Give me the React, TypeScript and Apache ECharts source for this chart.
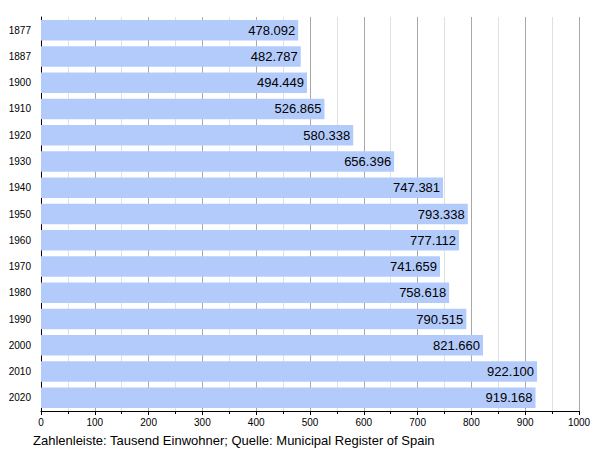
import React, { useEffect, useRef } from "react";
import * as echarts from "echarts";

const years = ["1877", "1887", "1900", "1910", "1920", "1930", "1940", "1950", "1960", "1970", "1980", "1990", "2000", "2010", "2020"];
const population = [478.092, 482.787, 494.449, 526.865, 580.338, 656.396, 747.381, 793.338, 777.112, 741.659, 758.618, 790.515, 821.66, 922.1, 919.168];
const caption = "Zahlenleiste: Tausend Einwohner; Quelle: Municipal Register of Spain";

export default function App() {
  const ref = useRef<HTMLDivElement>(null);
  useEffect(() => {
    const chart = echarts.init(ref.current!, null, { renderer: "svg" });
    chart.setOption({
      animation: false,
      textStyle: { fontFamily: "Liberation Sans, Arial, sans-serif" },
      grid: { left: 41, right: 21, top: 17, bottom: 39, containLabel: false },
      xAxis: {
        type: "value",
        min: 0,
        max: 1000,
        interval: 100,
        axisLine: { show: true, lineStyle: { color: "#000", width: 1 } },
        axisTick: { show: true, length: 4, inside: false, lineStyle: { color: "#000" } },
        minorTick: { show: true, splitNumber: 2, length: 3, lineStyle: { color: "#000" } },
        axisLabel: { color: "#000", fontSize: 10, margin: 6, formatter: (v: number) => String(v) },
        splitLine: { show: true, lineStyle: { color: "#a8a8a8", width: 1 } },
        minorSplitLine: { show: true, lineStyle: { color: "#e0e0e0", width: 1 } },
      },
      yAxis: {
        type: "category",
        data: years,
        inverse: true,
        axisLine: { show: true, lineStyle: { color: "#000", width: 1 } },
        axisTick: { show: false },
        axisLabel: { color: "#000", fontSize: 10, margin: 10 },
        splitLine: { show: false },
      },
      series: [
        {
          type: "bar",
          data: population,
          barCategoryGap: "22%",
          itemStyle: { color: "#b3cbfb" },
          label: {
            show: true,
            position: "insideRight",
            distance: 3,
            color: "#000",
            fontSize: 13,
            formatter: (p: any) => Number(p.value).toFixed(3),
          },
        },
      ],
      graphic: [
        {
          type: "text",
          left: 33,
          top: 434,
          style: { text: caption, fill: "#000", fontSize: 13, fontFamily: "Liberation Sans, Arial, sans-serif" },
        },
      ],
    });
    return () => chart.dispose();
  }, []);
  return <div ref={ref} style={{ width: 600, height: 450, position: "absolute", left: 0, top: 0 }} />;
}
